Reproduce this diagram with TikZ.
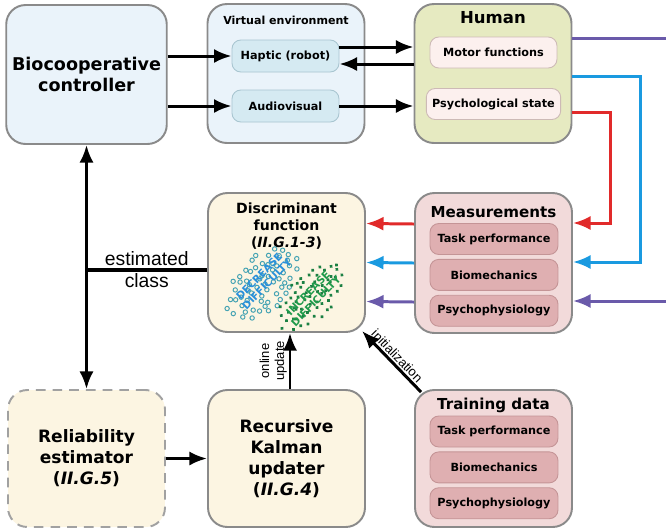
\documentclass[tikz,border=0pt]{standalone}
\usepackage{fontspec}
\setmainfont{DejaVu Sans}
\newfontfamily\arialfont{Liberation Sans}
\usetikzlibrary{arrows.meta,positioning,calc}
\definecolor{edge}{HTML}{8A8A8A}
\definecolor{skyfill}{HTML}{EAF3FA}
\definecolor{skyin}{HTML}{D5EAF2}
\definecolor{skyline}{HTML}{A8C5D0}
\definecolor{olive}{HTML}{E6EAC1}
\definecolor{blush}{HTML}{FCF0EE}
\definecolor{blushline}{HTML}{CDBAB6}
\definecolor{rose}{HTML}{F2DADA}
\definecolor{rosein}{HTML}{DFAFB1}
\definecolor{roseline}{HTML}{C49496}
\definecolor{cream}{HTML}{FCF5E2}
\definecolor{cred}{HTML}{E12A2A}
\definecolor{cblue}{HTML}{1A9AE0}
\definecolor{cpurp}{HTML}{6A5AAA}
\definecolor{dotblue}{HTML}{45A3B3}
\definecolor{txtblue}{HTML}{2A90DA}
\definecolor{dotgreen}{HTML}{1B8043}
\definecolor{txtgreen}{HTML}{1F9A4B}

\begin{document}
\begin{tikzpicture}[x=0.02cm,y=-0.02cm,
box/.style={draw=edge,line width=1.1pt,rounded corners=11pt,minimum width=3.14cm,minimum height=2.74cm,align=center,font=\bfseries\fontsize{9.7}{12}\selectfont},
head/.style={font=\bfseries\fontsize{8.6}{10}\selectfont},
vsub/.style={draw=skyline,fill=skyin,line width=0.5pt,rounded corners=5pt,minimum width=2.14cm,minimum height=0.64cm,font=\bfseries\fontsize{6.4}{7.5}\selectfont},
hsub/.style={vsub,draw=blushline,fill=blush,minimum width=2.54cm,minimum height=0.62cm},
msub/.style={vsub,draw=roseline,fill=rosein,minimum width=2.56cm,minimum height=0.62cm},
arr/.style={-{Latex[length=10pt,width=8pt]},line width=1.7pt},
cloud/.style={rotate=46,align=center,font=\bfseries\fontsize{5.9}{6.2}\selectfont},
lbl/.style={font=\arialfont\fontsize{7.4}{8.5}\selectfont,align=center,inner sep=1pt}]
\useasboundingbox (0,0) rectangle (666,529);
% top row
\node[box,fill=skyfill,minimum height=2.78cm,font=\bfseries\fontsize{10}{12}\selectfont] (ctrl) at (86.5,74.5) {Biocooperative\\controller};
\node[box,fill=skyfill,minimum height=2.78cm] (venv) at (286,73.5) {};
\node[font=\bfseries\fontsize{6.3}{7}\selectfont] (venvt) at (286,20) {Virtual environment};
\node[vsub] (haptic) at (285.5,56) {Haptic (robot)};
\node[vsub] (audio) at (285.5,106) {Audiovisual};
\node[box,fill=olive,minimum height=2.78cm] (human) at (493,73.5) {};
\node[font=\bfseries\fontsize{9.4}{10}\selectfont] (humant) at (493,18) {Human};
\node[hsub] (motor) at (493.5,52.5) {Motor functions};
\node[hsub] (psych) at (493.5,104) {Psychological state};
% middle row
\node[box,fill=cream,minimum height=2.78cm] (disc) at (286.5,262.5) {};
\node[font=\bfseries\fontsize{8}{9.9}\selectfont,align=center] (disct) at (286.5,226) {Discriminant\\function\\(\textit{II.G.1-3})};
\pgfmathsetseed{5}
\begin{scope}[shift={(263,284)},rotate=48]
\foreach \u in {-5,...,5}\foreach \v in {-3,...,3}{\pgfmathtruncatemacro\ok{(\u*\u/30+\v*\v/11)<1}
\ifnum\ok=1 \draw[dotblue,line width=0.55pt] ({8*\u+2.5*rand},{8*\v+2.5*rand}) circle (2.2);\fi}
\end{scope}
\begin{scope}[shift={(311,296)},rotate=48]
\foreach \u in {-6,...,6}\foreach \v in {-3,...,3}{\pgfmathtruncatemacro\ok{(\u*\u/38+\v*\v/10)<1}
\ifnum\ok=1 \fill[dotgreen] ({7*\u+2.5*rand},{7*\v+2.5*rand}) circle (1.9);\fi}
\end{scope}
\node[cloud,text=txtblue] (dect) at (263,280) {DECREASE\\DIFFICULTY};
\node[cloud,text=txtgreen] (inct) at (312,297) {INCREASE\\DIFFICULTY};
\node[box,fill=rose,minimum height=2.8cm] (meas) at (493.5,263) {};
\node[head] (meast) at (493.5,212) {Measurements};
\node[msub] (mtask) at (494,239) {Task performance};
\node[msub,below=0.08cm of mtask] (mbio) {Biomechanics};
\node[msub,below=0.08cm of mbio] (mpsy) {Psychophysiology};
% bottom row
\node[box,fill=cream,draw=edge!80,dash pattern=on 5.5pt off 4pt] (rel) at (86.5,458.5) {Reliability\\estimator\\(\textit{II.G.5})};
\node[box,fill=cream] (kal) at (286.5,458.5) {Recursive\\Kalman\\updater\\(\textit{II.G.4})};
\node[box,fill=rose] (train) at (493.5,458.5) {};
\node[head] (traint) at (493.5,405) {Training data};
\node[msub] (ttask) at (494,431.5) {Task performance};
\node[msub,below=0.08cm of ttask] (tbio) {Biomechanics};
\node[msub,below=0.08cm of tbio] (tpsy) {Psychophysiology};
% connectors
\draw[arr] (ctrl.east |- haptic) -- (haptic);
\draw[arr] (ctrl.east |- audio) -- (audio);
\coordinate (hup) at ($(haptic.east)+(0,-9)$);
\coordinate (hdn) at ($(haptic.east)+(0,8)$);
\draw[arr] (hup) -- (hup -| human.west);
\draw[arr] (hdn -| human.west) -- (hdn);
\draw[arr] (audio) -- (audio -| human.west);
\draw[arr,cpurp] ($(human.east)+(0,-35.5)$) -| ($(meas.east)+(120,38)$) -- ($(meas.east)+(0,38)$);
\draw[arr,cblue] ($(human.east)+(0,2.5)$) -| ($(meas.east)+(68,-1)$) -- ($(meas.east)+(0,-1)$);
\draw[arr,cred] ($(human.east)+(0,39)$) -| ($(meas.east)+(38,-40)$) -- ($(meas.east)+(0,-40)$);
\foreach \c/\dy in {cred/-39,cblue/0,cpurp/39} \draw[arr,\c] ($(meas.west)+(0,\dy)$) -- ($(disc.east)+(0,\dy)$);
\draw[{Latex[length=10pt,width=8pt]}-{Latex[length=10pt,width=8pt]},line width=1.7pt] (ctrl) -- (rel);
\coordinate (ec) at ($(disc.west)+(0,7.5)$);
\draw[line width=2.8pt] (ec) -- (ec -| ctrl.south) node[midway,above=-2.5pt,font=\arialfont\fontsize{11}{12}\selectfont]{estimated} node[midway,below=-2.5pt,font=\arialfont\fontsize{11}{12}\selectfont]{class};
\draw[arr] (rel) -- (kal);
\draw[arr] ($(kal.north)+(3.5,0)$) -- ($(disc.south)+(3.5,0)$) node[midway,lbl,rotate=90,anchor=south]{online\\update};
\draw[arr] ($(train.north west)+(7,3)$) -- ($(disc.south east)+(-4,-2)$) node[midway,lbl,rotate=-46,anchor=south]{initialization};
\end{tikzpicture}
\end{document}
